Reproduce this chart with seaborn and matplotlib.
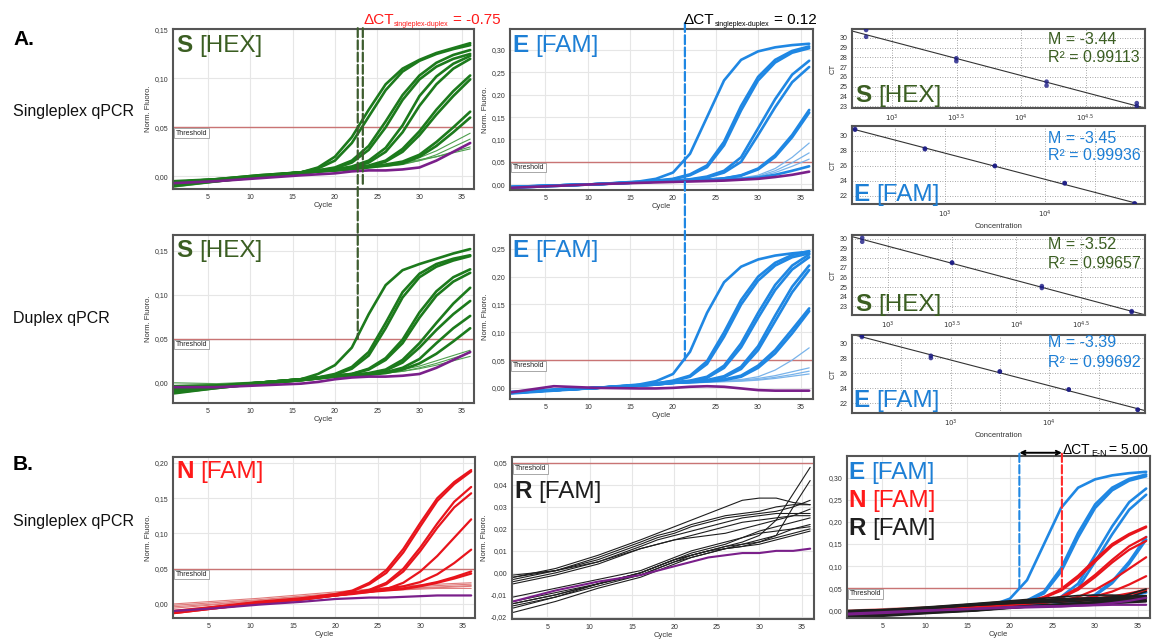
import numpy as np
import pandas as pd
import matplotlib
matplotlib.use("Agg")
import matplotlib.pyplot as plt
import seaborn as sns
from matplotlib.patches import ConnectionPatch
from matplotlib.ticker import FuncFormatter, FixedLocator, NullFormatter
import matplotlib.transforms as mtrans

# ---------------- data ----------------
CYCLES = [1, 6, 11, 16, 18, 20, 22, 24, 26, 28, 30, 32, 34, 36]
THRESHOLD = 0.05

S_SINGLE_AMP = [
    [-0.006, -0.004, 0.000, 0.004, 0.009, 0.020, 0.040, 0.068, 0.094, 0.110, 0.119, 0.126, 0.131, 0.136],
    [-0.008, -0.004, 0.000, 0.004, 0.008, 0.016, 0.034, 0.061, 0.088, 0.107, 0.118, 0.125, 0.130, 0.134],
    [-0.005, -0.003, 0.001, 0.004, 0.006, 0.009, 0.016, 0.031, 0.056, 0.083, 0.103, 0.116, 0.124, 0.129],
    [-0.007, -0.004, 0.000, 0.004, 0.006, 0.008, 0.014, 0.027, 0.050, 0.078, 0.099, 0.112, 0.120, 0.125],
    [-0.006, -0.003, 0.001, 0.004, 0.006, 0.007, 0.010, 0.016, 0.029, 0.052, 0.082, 0.102, 0.115, 0.123],
    [-0.009, -0.005, 0.000, 0.003, 0.005, 0.007, 0.009, 0.014, 0.025, 0.045, 0.072, 0.094, 0.110, 0.120],
    [-0.006, -0.003, 0.000, 0.004, 0.005, 0.007, 0.009, 0.011, 0.016, 0.028, 0.046, 0.068, 0.087, 0.103],
    [-0.008, -0.004, 0.000, 0.003, 0.005, 0.006, 0.008, 0.010, 0.015, 0.025, 0.042, 0.063, 0.082, 0.099],
    [-0.007, -0.004, 0.000, 0.003, 0.005, 0.006, 0.008, 0.010, 0.012, 0.015, 0.022, 0.035, 0.050, 0.066],
    [-0.010, -0.005, -0.001, 0.003, 0.005, 0.006, 0.007, 0.009, 0.011, 0.013, 0.020, 0.031, 0.045, 0.060],
]
S_SINGLE_LOW = [
    [-0.005, -0.003, 0.001, 0.004, 0.006, 0.007, 0.008, 0.009, 0.011, 0.014, 0.019, 0.026, 0.035, 0.044],
    [-0.009, -0.005, 0.000, 0.003, 0.005, 0.006, 0.008, 0.009, 0.010, 0.012, 0.016, 0.022, 0.030, 0.038],
    [-0.006, -0.003, 0.000, 0.003, 0.005, 0.007, 0.008, 0.010, 0.011, 0.013, 0.016, 0.020, 0.025, 0.030],
    [-0.011, -0.006, -0.001, 0.003, 0.005, 0.006, 0.008, 0.010, 0.012, 0.014, 0.017, 0.020, 0.024, 0.028],
]
S_SINGLE_NTC = [[-0.007, -0.005, -0.002, 0.001, 0.002, 0.003, 0.005, 0.006, 0.006, 0.007, 0.009, 0.016, 0.025, 0.034]]

E_SINGLE_AMP = [
    [-0.006, -0.003, 0.000, 0.006, 0.012, 0.026, 0.068, 0.150, 0.232, 0.278, 0.297, 0.306, 0.311, 0.314],
    [-0.007, -0.003, 0.000, 0.005, 0.008, 0.012, 0.022, 0.042, 0.095, 0.175, 0.240, 0.278, 0.298, 0.308],
    [-0.008, -0.004, 0.000, 0.005, 0.007, 0.011, 0.020, 0.038, 0.087, 0.165, 0.232, 0.272, 0.294, 0.304],
    [-0.006, -0.003, 0.000, 0.004, 0.006, 0.008, 0.011, 0.017, 0.030, 0.060, 0.125, 0.190, 0.245, 0.276],
    [-0.007, -0.003, 0.000, 0.004, 0.006, 0.007, 0.010, 0.015, 0.026, 0.050, 0.110, 0.172, 0.228, 0.262],
    [-0.006, -0.003, 0.000, 0.004, 0.006, 0.008, 0.009, 0.010, 0.013, 0.020, 0.035, 0.065, 0.110, 0.166],
    [-0.008, -0.004, 0.000, 0.004, 0.006, 0.008, 0.009, 0.010, 0.013, 0.019, 0.033, 0.061, 0.105, 0.160],
    [-0.007, -0.003, 0.000, 0.004, 0.006, 0.007, 0.008, 0.010, 0.011, 0.012, 0.015, 0.021, 0.030, 0.040],
]
E_SINGLE_LOW = [
    [-0.007, -0.003, 0.000, 0.004, 0.006, 0.008, 0.009, 0.010, 0.012, 0.014, 0.020, 0.035, 0.060, 0.092],
    [-0.008, -0.004, 0.000, 0.004, 0.006, 0.008, 0.009, 0.010, 0.012, 0.013, 0.018, 0.030, 0.048, 0.070],
    [-0.006, -0.003, 0.000, 0.004, 0.006, 0.007, 0.008, 0.010, 0.011, 0.013, 0.017, 0.026, 0.040, 0.056],
]
E_SINGLE_NTC = [[-0.008, -0.004, 0.000, 0.003, 0.004, 0.005, 0.006, 0.007, 0.008, 0.010, 0.012, 0.016, 0.021, 0.028]]

S_DUPLEX_AMP = [
    [-0.004, -0.003, 0.000, 0.004, 0.010, 0.020, 0.040, 0.078, 0.111, 0.128, 0.135, 0.141, 0.147, 0.152],
    [-0.010, -0.005, 0.000, 0.004, 0.006, 0.010, 0.018, 0.035, 0.068, 0.103, 0.124, 0.135, 0.141, 0.145],
    [-0.008, -0.004, -0.001, 0.003, 0.005, 0.009, 0.016, 0.031, 0.062, 0.097, 0.120, 0.132, 0.139, 0.144],
    [-0.006, -0.004, 0.000, 0.004, 0.006, 0.008, 0.010, 0.016, 0.028, 0.049, 0.080, 0.104, 0.120, 0.129],
    [-0.011, -0.006, -0.001, 0.003, 0.005, 0.008, 0.010, 0.015, 0.026, 0.045, 0.074, 0.099, 0.115, 0.125],
    [-0.007, -0.004, 0.000, 0.004, 0.006, 0.008, 0.009, 0.011, 0.015, 0.026, 0.045, 0.068, 0.090, 0.108],
    [-0.009, -0.005, -0.001, 0.003, 0.005, 0.007, 0.009, 0.010, 0.014, 0.023, 0.040, 0.060, 0.078, 0.093],
    [-0.006, -0.004, 0.000, 0.004, 0.006, 0.007, 0.009, 0.010, 0.012, 0.017, 0.027, 0.045, 0.062, 0.076],
    [-0.012, -0.006, -0.001, 0.003, 0.005, 0.007, 0.008, 0.009, 0.011, 0.015, 0.022, 0.033, 0.047, 0.062],
]
S_DUPLEX_LOW = [
    [-0.003, -0.002, 0.001, 0.004, 0.006, 0.008, 0.009, 0.010, 0.012, 0.015, 0.019, 0.025, 0.031, 0.037],
    [-0.010, -0.005, 0.000, 0.003, 0.005, 0.007, 0.009, 0.010, 0.011, 0.013, 0.017, 0.022, 0.028, 0.034],
    [0.000, -0.001, 0.001, 0.004, 0.006, 0.008, 0.009, 0.010, 0.011, 0.013, 0.016, 0.020, 0.025, 0.030],
]
S_DUPLEX_NTC = [[-0.005, -0.005, -0.003, -0.001, 0.001, 0.004, 0.006, 0.007, 0.007, 0.008, 0.010, 0.017, 0.026, 0.035]]

E_DUPLEX_AMP = [
    [-0.008, -0.004, 0.000, 0.006, 0.012, 0.025, 0.065, 0.135, 0.190, 0.218, 0.231, 0.238, 0.242, 0.245],
    [-0.009, -0.004, 0.000, 0.005, 0.008, 0.013, 0.022, 0.048, 0.100, 0.158, 0.200, 0.225, 0.239, 0.246],
    [-0.010, -0.005, 0.000, 0.005, 0.008, 0.012, 0.020, 0.043, 0.092, 0.150, 0.193, 0.220, 0.235, 0.242],
    [-0.008, -0.004, 0.000, 0.005, 0.007, 0.010, 0.013, 0.020, 0.040, 0.080, 0.135, 0.185, 0.220, 0.240],
    [-0.009, -0.004, 0.000, 0.004, 0.007, 0.009, 0.012, 0.018, 0.036, 0.073, 0.126, 0.176, 0.213, 0.235],
    [-0.007, -0.003, 0.000, 0.004, 0.007, 0.009, 0.011, 0.014, 0.021, 0.038, 0.075, 0.130, 0.182, 0.220],
    [-0.008, -0.004, 0.000, 0.004, 0.006, 0.009, 0.011, 0.013, 0.019, 0.034, 0.068, 0.120, 0.172, 0.212],
    [-0.008, -0.004, 0.000, 0.004, 0.006, 0.009, 0.011, 0.012, 0.015, 0.022, 0.040, 0.068, 0.105, 0.143],
    [-0.009, -0.004, 0.000, 0.004, 0.006, 0.009, 0.010, 0.012, 0.014, 0.020, 0.036, 0.062, 0.098, 0.138],
]
E_DUPLEX_LOW = [
    [-0.008, -0.004, 0.000, 0.004, 0.006, 0.009, 0.010, 0.012, 0.013, 0.015, 0.020, 0.032, 0.050, 0.072],
    [-0.007, -0.003, 0.000, 0.004, 0.006, 0.009, 0.010, 0.011, 0.012, 0.014, 0.017, 0.022, 0.029, 0.036],
    [-0.008, -0.004, 0.000, 0.004, 0.006, 0.008, 0.009, 0.010, 0.012, 0.013, 0.015, 0.019, 0.024, 0.030],
    [-0.009, -0.004, 0.000, 0.004, 0.006, 0.008, 0.009, 0.010, 0.011, 0.012, 0.014, 0.017, 0.021, 0.025],
]
E_DUPLEX_NTC = [[-0.008, 0.003, 0.000, -0.001, -0.001, 0.000, 0.002, 0.003, 0.002, -0.001, -0.004, -0.005, -0.005, -0.005]]

N_AMP = [
    [-0.012, -0.004, 0.003, 0.008, 0.011, 0.014, 0.019, 0.030, 0.048, 0.078, 0.115, 0.150, 0.173, 0.190],
    [-0.010, -0.004, 0.002, 0.007, 0.010, 0.013, 0.018, 0.028, 0.044, 0.073, 0.110, 0.146, 0.170, 0.188],
    [-0.012, -0.005, 0.002, 0.007, 0.010, 0.012, 0.015, 0.020, 0.030, 0.050, 0.080, 0.114, 0.145, 0.166],
    [-0.011, -0.005, 0.001, 0.007, 0.009, 0.012, 0.015, 0.019, 0.028, 0.046, 0.075, 0.108, 0.137, 0.157],
    [-0.013, -0.006, 0.001, 0.006, 0.009, 0.012, 0.014, 0.017, 0.021, 0.030, 0.046, 0.068, 0.094, 0.120],
    [-0.012, -0.005, 0.002, 0.007, 0.010, 0.013, 0.016, 0.019, 0.022, 0.025, 0.031, 0.042, 0.058, 0.077],
    [-0.011, -0.005, 0.002, 0.007, 0.010, 0.013, 0.016, 0.018, 0.020, 0.022, 0.026, 0.031, 0.038, 0.046],
    [-0.013, -0.006, 0.001, 0.006, 0.009, 0.012, 0.015, 0.017, 0.019, 0.021, 0.025, 0.030, 0.036, 0.043],
]
N_LOW = [
    [0.000, 0.004, 0.008, 0.013, 0.015, 0.017, 0.019, 0.021, 0.023, 0.025, 0.027, 0.028, 0.029, 0.030],
    [-0.002, 0.002, 0.006, 0.011, 0.013, 0.015, 0.017, 0.019, 0.022, 0.024, 0.025, 0.026, 0.027, 0.028],
    [-0.006, -0.001, 0.004, 0.009, 0.011, 0.014, 0.016, 0.018, 0.020, 0.022, 0.023, 0.024, 0.025, 0.026],
    [-0.009, -0.003, 0.003, 0.008, 0.010, 0.013, 0.015, 0.017, 0.019, 0.020, 0.021, 0.022, 0.022, 0.022],
    [-0.004, 0.000, 0.005, 0.010, 0.012, 0.015, 0.017, 0.019, 0.020, 0.021, 0.022, 0.023, 0.024, 0.025],
]
N_NTC = [[-0.010, -0.006, -0.001, 0.003, 0.005, 0.007, 0.008, 0.009, 0.009, 0.010, 0.011, 0.012, 0.012, 0.012]]

R_CURVES = [
    [-0.002, 0.002, 0.008, 0.015, 0.018, 0.021, 0.024, 0.027, 0.030, 0.033, 0.034, 0.034, 0.032, 0.031],
    [-0.001, 0.001, 0.007, 0.014, 0.017, 0.019, 0.022, 0.024, 0.026, 0.027, 0.028, 0.030, 0.031, 0.031],
    [-0.002, 0.001, 0.006, 0.013, 0.016, 0.018, 0.021, 0.023, 0.025, 0.026, 0.027, 0.028, 0.030, 0.033],
    [-0.004, 0.000, 0.005, 0.012, 0.015, 0.017, 0.019, 0.021, 0.023, 0.025, 0.026, 0.027, 0.027, 0.027],
    [-0.005, -0.001, 0.004, 0.011, 0.013, 0.015, 0.017, 0.019, 0.021, 0.023, 0.024, 0.025, 0.026, 0.026],
    [-0.003, 0.001, 0.005, 0.011, 0.013, 0.015, 0.016, 0.017, 0.018, 0.020, 0.022, 0.024, 0.026, 0.029],
    [-0.016, -0.011, -0.005, 0.000, 0.003, 0.006, 0.008, 0.010, 0.012, 0.014, 0.017, 0.024, 0.036, 0.048],
    [-0.014, -0.010, -0.005, 0.000, 0.003, 0.006, 0.008, 0.010, 0.011, 0.012, 0.014, 0.017, 0.030, 0.042],
    [-0.013, -0.009, -0.005, -0.001, 0.002, 0.005, 0.007, 0.009, 0.011, 0.013, 0.015, 0.017, 0.020, 0.022],
    [-0.015, -0.011, -0.006, -0.001, 0.002, 0.005, 0.008, 0.010, 0.012, 0.013, 0.014, 0.016, 0.018, 0.020],
    [-0.018, -0.013, -0.007, -0.002, 0.001, 0.004, 0.007, 0.009, 0.011, 0.012, 0.013, 0.015, 0.017, 0.019],
    [-0.011, -0.007, -0.003, 0.001, 0.004, 0.007, 0.010, 0.012, 0.014, 0.016, 0.019, 0.021, 0.023, 0.025],
    [-0.014, -0.010, -0.005, 0.000, 0.003, 0.006, 0.009, 0.011, 0.013, 0.016, 0.018, 0.019, 0.020, 0.021],
]
R_NTC = [[-0.013, -0.008, -0.004, -0.001, 0.001, 0.003, 0.005, 0.007, 0.008, 0.009, 0.009, 0.010, 0.010, 0.011]]

# standard curves (concentration, duplicate CTs)
S_CONC = [630, 3150, 15750, 78750]
E_CONC = [126, 630, 3150, 15750, 78750]
S_SINGLE_CT = [[30.8, 30.1], [27.9, 27.6], [25.5, 25.1], [23.3, 23.0]]
E_SINGLE_CT = [[30.9, 30.8], [28.3, 28.2], [26.0, 25.95], [23.7, 23.65], [21.0, 20.9]]
S_DUPLEX_CT = [[30.1, 29.7], [27.55, 27.5], [25.1, 24.9], [22.5, 22.4]]
E_DUPLEX_CT = [[31.0, 30.8], [28.3, 28.0], [26.2, 26.2], [23.8, 23.8], [21.1, 21.1]]
STD_TEXT = {
    "s1": ("M = -3.44", "R² = 0.99113"),
    "e1": ("M = -3.45", "R² = 0.99936"),
    "s2": ("M = -3.52", "R² = 0.99657"),
    "e2": ("M = -3.39", "R² = 0.99692"),
}
# Ct markers for the dashed lines
S_CT_MARKS = [22.7, 23.3]
E_CT_MARK = 21.4
ENR_CT_MARKS = [21.1, 26.1]

# ---------------- style ----------------
sns.set_theme(style="white")
plt.rcParams['font.family'] = ['Liberation Sans', 'DejaVu Sans']

GREEN = "#1c7a1c"
GREEN_LT = "#4f9f4f"
GREEN_TXT = "#3b5e22"
BLUE = "#1f87e3"
BLUE_LT = "#79b3ea"
BLUE_TXT = "#1d7fd5"
RED = "#e8141c"
RED_LT = "#e07a7a"
RED_TXT = "#ff1a1a"
BLACK = "#1e1e1e"
PURPLE = "#7a1f8a"
THR = "#c97474"

W, H = 1157, 641
fig = plt.figure(figsize=(W / 100, H / 100), dpi=100)
fig.patch.set_facecolor("white")


def add_ax(L, T, R, B):
    return fig.add_axes([L / W, 1 - B / H, (R - L) / W, (B - T) / H])


def to_long(curves):
    rows = []
    for i, c in enumerate(curves):
        for x, y in zip(CYCLES, c):
            rows.append((i, x, y))
    return pd.DataFrame(rows, columns=["curve", "cycle", "fluo"])


fmt = FuncFormatter(lambda v, p: f"{v:.2f}".replace(".", ","))


def amp_panel(ax, groups, ylim, yticks, ylabel=True):
    for curves, color, lw in groups:
        sns.lineplot(data=to_long(curves), x="cycle", y="fluo", units="curve",
                     estimator=None, color=color, lw=lw, ax=ax, legend=False)
    ax.axhline(THRESHOLD, color=THR, lw=1.0, zorder=1)
    ax.annotate("Threshold", xy=(0, THRESHOLD), xycoords=("axes fraction", "data"),
                xytext=(2.0, -1.6), textcoords="offset points", va="top", ha="left",
                fontsize=5, color="#222",
                bbox=dict(boxstyle="square,pad=0.2", fc="white", ec="#9a9a9a", lw=0.6))
    ax.set_xlim(0.85, 36.45)
    ax.set_ylim(*ylim)
    ax.set_xticks([5, 10, 15, 20, 25, 30, 35])
    ax.set_yticks(yticks)
    ax.yaxis.set_major_formatter(fmt)
    ax.grid(True, color="#e6e6e6", lw=0.8)
    ax.set_axisbelow(True)
    for s in ax.spines.values():
        s.set_color("#555555")
        s.set_linewidth(1.5)
    ax.tick_params(labelsize=5, length=2, width=0.6, color="#999", labelcolor="#333", pad=1.5)
    ax.set_xlabel("Cycle", fontsize=5.5, labelpad=1.0, color="#333")
    ax.set_ylabel("Norm. Fluoro." if ylabel else "", fontsize=5.5, labelpad=2, color="#333")


def std_panel(ax, conc, cts, xlim, ylim, yticks, xmajor, xlabels, xminor, xlabel=False):
    ax.set_xscale("log")
    ax.set_xlim(*xlim)
    ax.set_ylim(*ylim)
    x = np.repeat(conc, 2)
    y = np.ravel(cts)
    sns.regplot(x=x, y=y, ax=ax, logx=True, ci=None, truncate=False,
                scatter_kws=dict(s=11, color="#1b1b85", edgecolors="none", zorder=3),
                line_kws=dict(color="#333333", lw=0.8))
    ax.set_xlim(*xlim)
    ax.set_ylim(*ylim)
    ax.xaxis.set_major_locator(FixedLocator(xmajor))
    ax.set_xticklabels(xlabels)
    ax.xaxis.set_minor_locator(FixedLocator(xminor))
    ax.xaxis.set_minor_formatter(NullFormatter())
    ax.set_yticks(yticks)
    ax.set_yticklabels([str(t) for t in yticks])
    ax.grid(True, which="both", axis="x", color="#8a8a8a", lw=0.6, linestyle=(0, (1, 2)))
    ax.grid(True, which="major", axis="y", color="#8a8a8a", lw=0.6, linestyle=(0, (1, 2)))
    ax.set_axisbelow(True)
    for s in ax.spines.values():
        s.set_color("#555555")
        s.set_linewidth(1.5)
    ax.tick_params(which="both", labelsize=5, length=2, width=0.6, color="#999", labelcolor="#333", pad=1.5)
    ax.tick_params(which="minor", length=0)
    ax.set_ylabel("CT", fontsize=5.5, labelpad=2, color="#333")
    ax.set_xlabel("Concentration" if xlabel else "", fontsize=5.5, labelpad=2, color="#333")


# ---------------- axes ----------------
ax_s1 = add_ax(173, 29, 474, 189)
ax_e1 = add_ax(510, 29, 813, 190)
ax_ss1 = add_ax(852, 29, 1145, 108)
ax_se1 = add_ax(852, 126, 1145, 204)
ax_s2 = add_ax(173, 235, 474, 403)
ax_e2 = add_ax(510, 235, 813, 399)
ax_ss2 = add_ax(852, 235, 1145, 315)
ax_se2 = add_ax(852, 335, 1145, 413)
ax_n = add_ax(173, 457, 475, 618)
ax_r = add_ax(512, 457, 814, 619)
ax_enr = add_ax(847, 456, 1150, 618)

amp_panel(ax_s1, [(S_SINGLE_LOW, GREEN_LT, 0.8), (S_SINGLE_AMP, GREEN, 1.9), (S_SINGLE_NTC, PURPLE, 1.9)],
          (-0.013, 0.1505), [0, 0.05, 0.10, 0.15])
amp_panel(ax_e1, [(E_SINGLE_LOW, BLUE_LT, 0.9), (E_SINGLE_AMP, BLUE, 1.9), (E_SINGLE_NTC, PURPLE, 1.9)],
          (-0.013, 0.347), [0, 0.05, 0.10, 0.15, 0.20, 0.25, 0.30])
amp_panel(ax_s2, [(S_DUPLEX_LOW, GREEN_LT, 0.8), (S_DUPLEX_AMP, GREEN, 1.9), (S_DUPLEX_NTC, PURPLE, 1.9)],
          (-0.023, 0.168), [0, 0.05, 0.10, 0.15])
amp_panel(ax_e2, [(E_DUPLEX_LOW, BLUE_LT, 0.9), (E_DUPLEX_AMP, BLUE, 1.9), (E_DUPLEX_NTC, PURPLE, 1.9)],
          (-0.02, 0.275), [0, 0.05, 0.10, 0.15, 0.20, 0.25])
amp_panel(ax_n, [(N_LOW, RED_LT, 0.8), (N_AMP, RED, 1.6), (N_NTC, PURPLE, 1.6)],
          (-0.02, 0.2085), [0, 0.05, 0.10, 0.15, 0.20])
amp_panel(ax_r, [(R_CURVES, BLACK, 0.8), (R_NTC, PURPLE, 1.5)],
          (-0.021, 0.0527), [-0.02, -0.01, 0, 0.01, 0.02, 0.03, 0.04, 0.05])
amp_panel(ax_enr, [(E_SINGLE_AMP, BLUE, 1.9), (N_LOW, RED_LT, 0.8), (N_AMP, RED, 1.6),
                   (R_CURVES, BLACK, 1.2), (E_SINGLE_NTC, PURPLE, 1.6), (N_NTC, PURPLE, 1.6)],
          (-0.018, 0.35), [0, 0.05, 0.10, 0.15, 0.20, 0.25, 0.30], ylabel=False)

S_MAJOR = [10 ** 3, 10 ** 3.5, 10 ** 4, 10 ** 4.5]
S_LABELS = ["$10^{3}$", "$10^{3.5}$", "$10^{4}$", "$10^{4.5}$"]
E_MAJOR = [10 ** 3, 10 ** 4]
E_LABELS = ["$10^{3}$", "$10^{4}$"]
E_MINOR = [10 ** 2.5, 10 ** 3.5, 10 ** 4.5]

std_panel(ax_ss1, S_CONC, S_SINGLE_CT, (10 ** 2.69, 10 ** 4.96), (22.8, 30.9), list(range(23, 31)),
          S_MAJOR, S_LABELS, [])
std_panel(ax_se1, E_CONC, E_SINGLE_CT, (10 ** 2.07, 10 ** 5.0), (20.9, 31.3), [22, 24, 26, 28, 30],
          E_MAJOR, E_LABELS, E_MINOR, xlabel=True)
std_panel(ax_ss2, S_CONC, S_DUPLEX_CT, (10 ** 2.72, 10 ** 5.0), (22.1, 30.4), list(range(23, 31)),
          S_MAJOR, S_LABELS, [])
std_panel(ax_se2, E_CONC, E_DUPLEX_CT, (10 ** 2.0, 10 ** 4.97), (20.67, 31.07), [22, 24, 26, 28, 30],
          E_MAJOR, E_LABELS, E_MINOR, xlabel=True)

# ---------------- dashed Ct lines ----------------
DASH = (0, (4, 1.5))
GREEN_DASH = "#3d5c2e"
tS1 = mtrans.blended_transform_factory(ax_s1.transData, ax_s1.transAxes)
tE1 = mtrans.blended_transform_factory(ax_e1.transData, ax_e1.transAxes)
tENR = mtrans.blended_transform_factory(ax_enr.transData, ax_enr.transAxes)

fig.add_artist(ConnectionPatch(xyA=(S_CT_MARKS[0], 1.005), coordsA=tS1, xyB=(S_CT_MARKS[0], THRESHOLD),
                               coordsB=ax_s2.transData, color=GREEN_DASH, lw=1.6, linestyle=DASH,
                               shrinkA=0, shrinkB=0))
fig.add_artist(ConnectionPatch(xyA=(S_CT_MARKS[1], 1.005), coordsA=tS1, xyB=(S_CT_MARKS[1], 0.03),
                               coordsB=tS1, color=GREEN_DASH, lw=1.6, linestyle=DASH,
                               shrinkA=0, shrinkB=0))
fig.add_artist(ConnectionPatch(xyA=(E_CT_MARK, 1.037), coordsA=tE1, xyB=(E_CT_MARK, THRESHOLD),
                               coordsB=ax_e2.transData, color=BLUE, lw=1.6, linestyle=DASH,
                               shrinkA=0, shrinkB=0))
for ct, col in zip(ENR_CT_MARKS, [BLUE, "#ff2a2a"]):
    fig.add_artist(ConnectionPatch(xyA=(ct, THRESHOLD), coordsA=ax_enr.transData, xyB=(ct, 1.02),
                                   coordsB=tENR, color=col, lw=1.5, linestyle=DASH,
                                   shrinkA=0, shrinkB=0))
ax_enr.annotate("", xy=(ENR_CT_MARKS[1], 1.02), xytext=(ENR_CT_MARKS[0], 1.02), xycoords=tENR,
                textcoords=tENR, annotation_clip=False,
                arrowprops=dict(arrowstyle="<->", color="black", lw=1.4, shrinkA=0, shrinkB=0,
                                mutation_scale=7))

# ---------------- overlay text ----------------
ov = fig.add_axes([0, 0, 1, 1], zorder=10)
ov.set_xlim(0, W)
ov.set_ylim(H, 0)
ov.axis("off")


def rich(x, y, parts):
    t0, s0, w0, c0 = parts[0][:4]
    first = ov.text(x, y, t0, fontsize=s0, fontweight=w0, color=c0, va="baseline", ha="left")
    prev = first
    for txt, size, weight, color, dx, dy in [p if len(p) == 6 else (*p, 0, 0) for p in parts[1:]]:
        prev = ov.annotate(txt, xy=(1, 0), xycoords=(prev, first), xytext=(dx, dy),
                           textcoords="offset points", va="bottom", ha="left",
                           fontsize=size, fontweight=weight, color=color)
    return first


BIG = 17.5
SP = 0.278 * BIG


def tag(x, y, letter, chan, color):
    rich(x, y, [(letter, BIG, "bold", color), ("[" + chan + "]", BIG, "normal", color, SP, 0)])


tag(176, 52, "S", "HEX", GREEN_TXT)
tag(512, 52, "E", "FAM", BLUE_TXT)
tag(855, 102, "S", "HEX", GREEN_TXT)
tag(853, 201, "E", "FAM", BLUE_TXT)
tag(176, 257, "S", "HEX", GREEN_TXT)
tag(512, 257, "E", "FAM", BLUE_TXT)
tag(855, 311, "S", "HEX", GREEN_TXT)
tag(853, 407, "E", "FAM", BLUE_TXT)
tag(176, 478, "N", "FAM", RED_TXT)
tag(514, 498, "R", "FAM", BLACK)
tag(848, 479, "E", "FAM", BLUE_TXT)
tag(848, 507, "N", "FAM", RED_TXT)
tag(848, 535, "R", "FAM", BLACK)

for key, (xb, yb1, yb2, col) in {"s1": (1048, 44, 62, GREEN_TXT), "e1": (1048, 143, 160, BLUE_TXT),
                                 "s2": (1048, 249, 268, GREEN_TXT), "e2": (1048, 347, 367, BLUE_TXT)}.items():
    ov.text(xb, yb1, STD_TEXT[key][0], fontsize=11.5, color=col, va="baseline", ha="left")
    ov.text(xb, yb2, STD_TEXT[key][1], fontsize=11.5, color=col, va="baseline", ha="left")

# delta CT labels
DSIZE = 11
rich(363, 24, [("ΔCT", DSIZE, "normal", RED_TXT), ("singleplex-duplex", 5, "normal", RED_TXT, 0.3, -0.6),
               ("= -0.75", DSIZE, "normal", RED_TXT, 0.278 * DSIZE, 0)])
rich(684, 24, [("ΔCT", DSIZE, "normal", "black"), ("singleplex-duplex", 5, "normal", "black", 0.3, -0.6),
               ("= 0.12", DSIZE, "normal", "black", 0.278 * DSIZE, 0)])
rich(1063, 454, [("ΔCT", 10, "normal", "black"), ("E-N", 6.5, "normal", "black", 0.2, -1.0),
                 ("= 5.00", 10, "normal", "black", 2.0, 0)])

# row labels
ov.text(13, 45, "A.", fontsize=15, fontweight="bold", color="black", va="baseline")
ov.text(13, 116, "Singleplex qPCR", fontsize=11.5, color="#111", va="baseline")
ov.text(13, 323, "Duplex qPCR", fontsize=11.5, color="#111", va="baseline")
ov.text(13, 470, "B.", fontsize=15, fontweight="bold", color="black", va="baseline")
ov.text(13, 526, "Singleplex qPCR", fontsize=11.5, color="#111", va="baseline")

fig.savefig("out.png", dpi=100, facecolor="white")
